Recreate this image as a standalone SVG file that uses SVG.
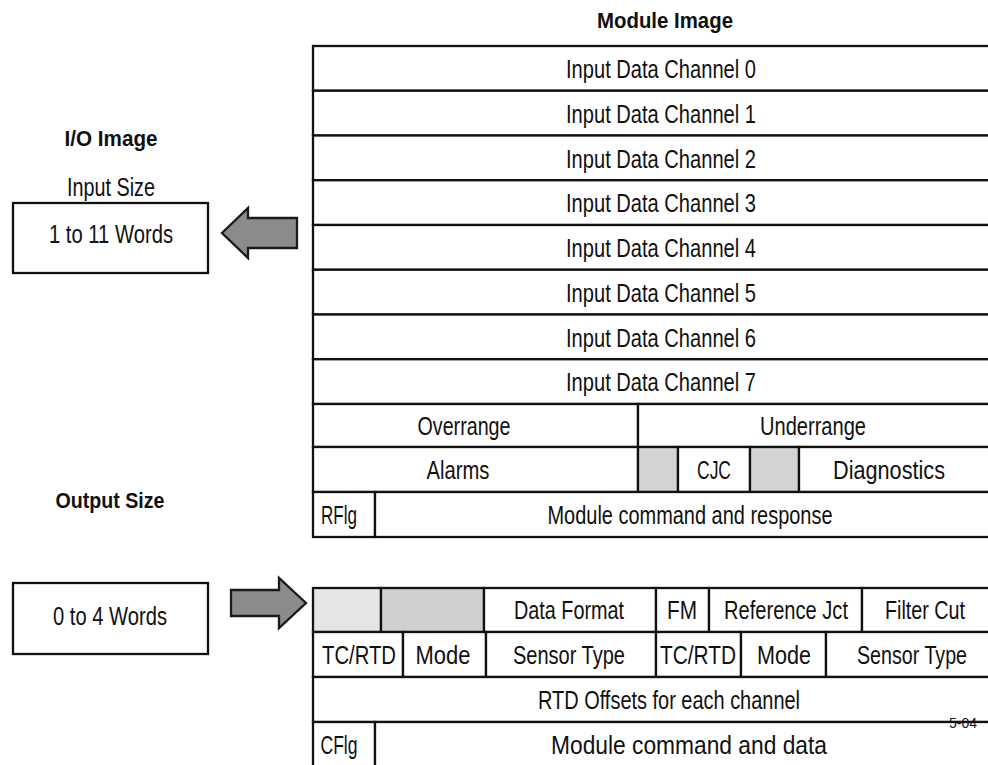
<svg xmlns="http://www.w3.org/2000/svg" width="988" height="765" viewBox="0 0 988 765">
<style>
.c{fill:#fff;stroke:#111;stroke-width:2.3}
.g1{fill:#d3d3d5;stroke:#111;stroke-width:2.3}
.g2{fill:#e5e5e7;stroke:#111;stroke-width:2.3}
.g3{fill:#d0d0d2;stroke:#111;stroke-width:2.3}
.t{font-family:"Liberation Sans",Arial,sans-serif;font-size:25px;fill:#111;text-anchor:middle}
.b{font-family:"Liberation Sans",Arial,sans-serif;font-size:22px;font-weight:bold;fill:#111;text-anchor:middle}
.s{font-family:"Liberation Sans",Arial,sans-serif;font-size:14px;fill:#111;text-anchor:middle}
.arr{fill:#8b8b8d;stroke:#1a1a1a;stroke-width:2.3;stroke-linejoin:miter}
</style>
<rect width="988" height="765" fill="#fff"/>

<g id="labels">
<text class="b" x="665" y="28" textLength="136" lengthAdjust="spacingAndGlyphs">Module Image</text>
<text class="b" x="111" y="146" textLength="93" lengthAdjust="spacingAndGlyphs">I/O Image</text>
<text class="t" x="111" y="196" textLength="88" lengthAdjust="spacingAndGlyphs">Input Size</text>
<text class="b" x="110" y="508" textLength="109" lengthAdjust="spacingAndGlyphs">Output Size</text>
</g>

<g id="input-size-box">
<rect class="c" x="13" y="203" width="195" height="70"/>
<text class="t" x="111" y="242.5" textLength="124" lengthAdjust="spacingAndGlyphs">1 to 11 Words</text>
</g>

<g id="output-size-box">
<rect class="c" x="13" y="583" width="195" height="71"/>
<text class="t" x="110" y="624.5" textLength="114" lengthAdjust="spacingAndGlyphs">0 to 4 Words</text>
</g>

<g id="module-input-image">
<g id="ch0"><rect class="c" x="313" y="46" width="677" height="44.75"/><text class="t" x="661" y="78" textLength="190" lengthAdjust="spacingAndGlyphs">Input Data Channel 0</text></g>
<g id="ch1"><rect class="c" x="313" y="90.75" width="677" height="44.75"/><text class="t" x="661" y="122.7" textLength="190" lengthAdjust="spacingAndGlyphs">Input Data Channel 1</text></g>
<g id="ch2"><rect class="c" x="313" y="135.5" width="677" height="44.75"/><text class="t" x="661" y="167.5" textLength="190" lengthAdjust="spacingAndGlyphs">Input Data Channel 2</text></g>
<g id="ch3"><rect class="c" x="313" y="180.25" width="677" height="44.75"/><text class="t" x="661" y="212.2" textLength="190" lengthAdjust="spacingAndGlyphs">Input Data Channel 3</text></g>
<g id="ch4"><rect class="c" x="313" y="225" width="677" height="44.75"/><text class="t" x="661" y="257" textLength="190" lengthAdjust="spacingAndGlyphs">Input Data Channel 4</text></g>
<g id="ch5"><rect class="c" x="313" y="269.75" width="677" height="44.75"/><text class="t" x="661" y="301.7" textLength="190" lengthAdjust="spacingAndGlyphs">Input Data Channel 5</text></g>
<g id="ch6"><rect class="c" x="313" y="314.5" width="677" height="44.75"/><text class="t" x="661" y="346.5" textLength="190" lengthAdjust="spacingAndGlyphs">Input Data Channel 6</text></g>
<g id="ch7"><rect class="c" x="313" y="359.25" width="677" height="44.75"/><text class="t" x="661" y="391.2" textLength="190" lengthAdjust="spacingAndGlyphs">Input Data Channel 7</text></g>
<g id="overrange"><rect class="c" x="313" y="404" width="325" height="43"/><text class="t" x="464" y="435" textLength="93" lengthAdjust="spacingAndGlyphs">Overrange</text></g>
<g id="underrange"><rect class="c" x="638" y="404" width="352" height="43"/><text class="t" x="813" y="435" textLength="106" lengthAdjust="spacingAndGlyphs">Underrange</text></g>
<g id="alarms"><rect class="c" x="313" y="447" width="325" height="45"/><text class="t" x="458" y="479" textLength="63" lengthAdjust="spacingAndGlyphs">Alarms</text></g>
<g id="gray-a"><rect class="g1" x="638" y="447" width="40" height="45"/></g>
<g id="cjc"><rect class="c" x="678" y="447" width="72" height="45"/><text class="t" x="714" y="479" textLength="34" lengthAdjust="spacingAndGlyphs">CJC</text></g>
<g id="gray-b"><rect class="g1" x="750" y="447" width="49" height="45"/></g>
<g id="diagnostics"><rect class="c" x="799" y="447" width="191" height="45"/><text class="t" x="889" y="479" textLength="112" lengthAdjust="spacingAndGlyphs">Diagnostics</text></g>
<g id="rflg"><rect class="c" x="313" y="492" width="62" height="45"/><text class="t" x="339" y="524" textLength="36" lengthAdjust="spacingAndGlyphs">RFlg</text></g>
<g id="cmd-response"><rect class="c" x="375" y="492" width="615" height="45"/><text class="t" x="690" y="524" textLength="285" lengthAdjust="spacingAndGlyphs">Module command and response</text></g>
</g>

<g id="module-output-image">
<g id="gray-c"><rect class="g2" x="313" y="588" width="68" height="44"/></g>
<g id="gray-d"><rect class="g3" x="381" y="588" width="103" height="44"/></g>
<g id="data-format"><rect class="c" x="484" y="588" width="172" height="44"/><text class="t" x="569" y="619" textLength="110" lengthAdjust="spacingAndGlyphs">Data Format</text></g>
<g id="fm"><rect class="c" x="656" y="588" width="53" height="44"/><text class="t" x="682" y="619" textLength="30" lengthAdjust="spacingAndGlyphs">FM</text></g>
<g id="ref-jct"><rect class="c" x="709" y="588" width="153" height="44"/><text class="t" x="786" y="619" textLength="124" lengthAdjust="spacingAndGlyphs">Reference Jct</text></g>
<g id="filter-cut"><rect class="c" x="862" y="588" width="128" height="44"/><text class="t" x="925" y="619" textLength="80" lengthAdjust="spacingAndGlyphs">Filter Cut</text></g>
<g id="tcrtd-a"><rect class="c" x="313" y="632" width="90" height="45"/><text class="t" x="359" y="663.5" textLength="74" lengthAdjust="spacingAndGlyphs">TC/RTD</text></g>
<g id="mode-a"><rect class="c" x="403" y="632" width="83" height="45"/><text class="t" x="443" y="663.5" textLength="55" lengthAdjust="spacingAndGlyphs">Mode</text></g>
<g id="sensor-a"><rect class="c" x="486" y="632" width="170" height="45"/><text class="t" x="569" y="663.5" textLength="112" lengthAdjust="spacingAndGlyphs">Sensor Type</text></g>
<g id="tcrtd-b"><rect class="c" x="656" y="632" width="85" height="45"/><text class="t" x="698" y="663.5" textLength="76" lengthAdjust="spacingAndGlyphs">TC/RTD</text></g>
<g id="mode-b"><rect class="c" x="741" y="632" width="85" height="45"/><text class="t" x="784" y="663.5" textLength="54" lengthAdjust="spacingAndGlyphs">Mode</text></g>
<g id="sensor-b"><rect class="c" x="826" y="632" width="164" height="45"/><text class="t" x="912" y="663.5" textLength="110" lengthAdjust="spacingAndGlyphs">Sensor Type</text></g>
<g id="rtd-offsets"><rect class="c" x="313" y="677" width="677" height="45"/><text class="t" x="669" y="708.5" textLength="262" lengthAdjust="spacingAndGlyphs">RTD Offsets for each channel</text></g>
<g id="cflg"><rect class="c" x="313" y="722" width="62" height="70"/><text class="t" x="339" y="753.5" textLength="37" lengthAdjust="spacingAndGlyphs">CFlg</text></g>
<g id="cmd-data"><rect class="c" x="375" y="722" width="615" height="70"/><text class="t" x="689" y="753.5" textLength="276" lengthAdjust="spacingAndGlyphs">Module command and data</text></g>
<text class="s" x="963" y="728" textLength="28" lengthAdjust="spacingAndGlyphs">5-04</text>
</g>

<g id="connectors">
<polygon class="arr" points="222,233 248,208 248,218 297,218 297,248 248,248 248,258"/>
<polygon class="arr" points="306,603 279,578 279,590 231,590 231,616 279,616 279,628"/>
</g>
</svg>
